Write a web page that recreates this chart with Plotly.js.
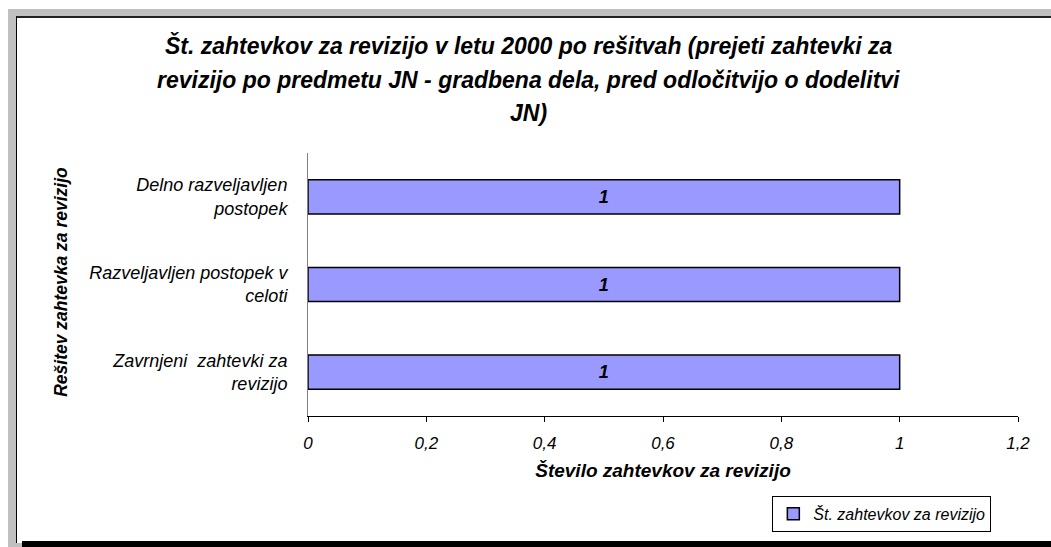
<!DOCTYPE html>
<html>
<head>
<meta charset="utf-8">
<script src="https://cdn.plot.ly/plotly-3.0.1.min.js"></script>
<style>
  html, body { margin: 0; padding: 0; background: #fff; width: 1051px; height: 547px; overflow: hidden; }
  #bg { position: absolute; left: 8px; top: 9px; width: 1043px; height: 538px; background: #c0c0c0; }
  #shadow { position: absolute; left: 22px; top: 541px; width: 1029px; height: 6px; background: #000; }
  #frame { position: absolute; left: 16px; top: 16px; width: 1035px; height: 525px;
           border-left: 1px solid #000; border-top: 2px solid #222; background: #fff; }
  #chart { position: absolute; left: 17px; top: 18px; width: 1034px; height: 523px; }
</style>
</head>
<body>
<div id="bg"></div>
<div id="frame"></div>
<div id="shadow"></div>
<div id="chart"></div>
<script>
// Podatki
const categories = [
  "Zavrnjeni  zahtevki za<br>revizijo",
  "Razveljavljen postopek v<br>celoti",
  "Delno razveljavljen<br>postopek",
];
const counts = [1, 1, 1];
const seriesName = "Št. zahtevkov za revizijo";
const titleLines = [
  "Št. zahtevkov za revizijo v letu 2000 po rešitvah (prejeti zahtevki za",
  "revizijo po predmetu JN - gradbena dela, pred odločitvijo o dodelitvi",
  "JN)",
];
const xTitle = "Število zahtevkov za revizijo";
const yTitle = "Rešitev zahtevka za revizijo";
const xTicks = [0, 0.2, 0.4, 0.6, 0.8, 1, 1.2];

const FONT = "Liberation Sans, Arial, sans-serif";
const italic = (size, bold) => ({
  family: FONT,
  size: size,
  color: "#000",
  style: "italic",
  weight: bold ? "bold" : "normal",
});

const trace = {
  type: "bar",
  orientation: "h",
  x: counts,
  y: categories,
  name: seriesName,
  text: counts.map((v) => String(v)),
  textposition: "inside",
  insidetextanchor: "middle",
  textfont: italic(18, true),
  marker: { color: "#9999ff", line: { color: "#000", width: 1.5 } },
  showlegend: true,
  hoverinfo: "skip",
};

// Naslov v treh vrsticah (razmik kot v originalu)
const titleY = [1.407, 1.278, 1.152];
const annotations = titleLines.map((t, i) => ({
  text: t,
  xref: "paper",
  yref: "paper",
  x: 0.311,
  y: titleY[i],
  xanchor: "center",
  yanchor: "middle",
  showarrow: false,
  font: italic(23, true),
}));

// Naslov osi y
annotations.push({
  text: yTitle,
  xref: "paper",
  yref: "paper",
  x: -0.348,
  y: 0.51,
  xanchor: "center",
  yanchor: "middle",
  textangle: -90,
  showarrow: false,
  font: italic(17.5, true),
});

const layout = {
  width: 1034,
  height: 523,
  margin: { l: 291, r: 33, t: 135, b: 125, autoexpand: false },
  paper_bgcolor: "rgba(0,0,0,0)",
  plot_bgcolor: "#fff",
  separators: ", ",
  font: { family: FONT, size: 14, color: "#000" },
  bargap: 0.61,
  showlegend: true,
  legend: {
    x: 0.654,
    y: -0.304,
    xanchor: "left",
    yanchor: "top",
    bgcolor: "#fff",
    bordercolor: "#000",
    borderwidth: 1,
    font: italic(16, false),
    itemwidth: 30,
    tracegroupgap: 0,
  },
  xaxis: {
    range: [0, 1.2],
    tickvals: xTicks,
    ticks: "outside",
    ticklen: 5,
    tickcolor: "#000",
    ticklabelstandoff: 7,
    showgrid: false,
    zeroline: false,
    showline: true,
    linecolor: "#000",
    linewidth: 1,
    tickfont: italic(17, false),
    title: {
      text: xTitle,
      font: italic(19, true),
      standoff: 11,
    },
    automargin: false,
  },
  yaxis: {
    type: "category",
    categoryorder: "array",
    categoryarray: categories,
    ticks: "",
    ticklabelstandoff: 16,
    showgrid: false,
    zeroline: false,
    showline: true,
    linecolor: "#808080",
    linewidth: 1,
    tickfont: italic(18, false),
    automargin: false,
  },
  annotations: annotations,
};

Plotly.newPlot("chart", [trace], layout, { displayModeBar: false, staticPlot: true });
</script>
</body>
</html>
